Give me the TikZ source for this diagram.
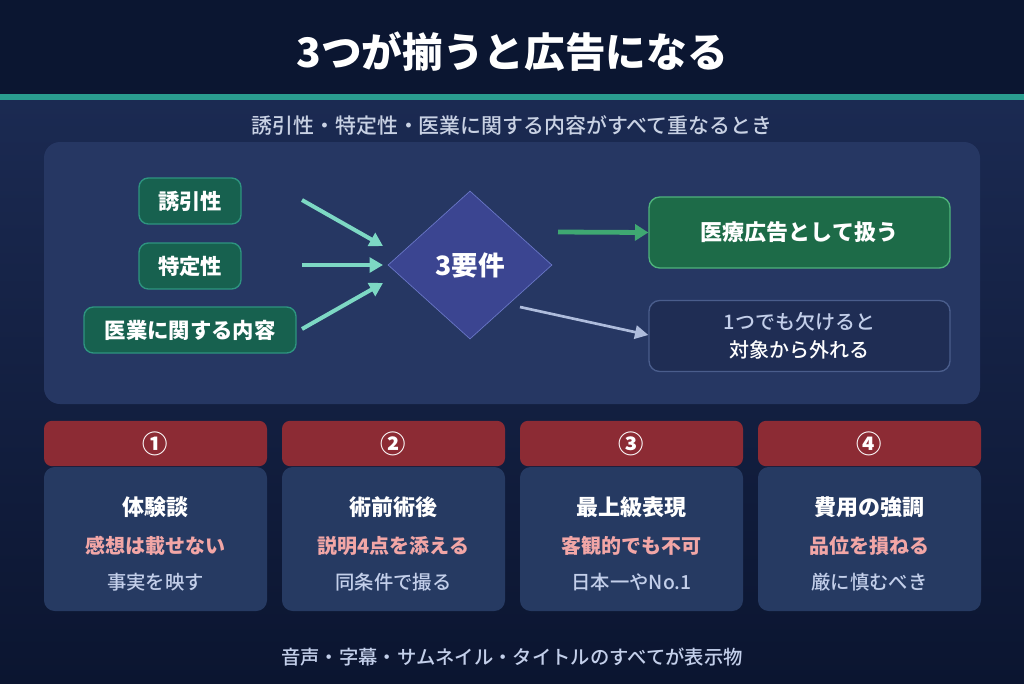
\documentclass[tikz,border=0pt]{standalone}
\usepackage{fontspec}
\setmainfont{Noto Sans CJK JP}
\newfontfamily\admedium{Noto Sans CJK JP}[UprightFont={* Medium}]
\usetikzlibrary{arrows.meta,shapes.geometric}
\definecolor{adbgtop}{HTML}{0B1631}
\definecolor{adbgmid}{HTML}{1B2A52}
\definecolor{adbgend}{HTML}{0B1530}
\definecolor{adteal}{HTML}{2A9D8F}
\definecolor{adpanel}{HTML}{263763}
\definecolor{adreqfill}{HTML}{17614F}
\definecolor{adreqdraw}{HTML}{2E9480}
\definecolor{admint}{HTML}{7DD8C4}
\definecolor{adcore}{HTML}{3B4591}
\definecolor{adcoredraw}{HTML}{6B78C8}
\definecolor{adgreen}{HTML}{3FA872}
\definecolor{adokfill}{HTML}{1D6B48}
\definecolor{adokdraw}{HTML}{4FB37C}
\definecolor{admissfill}{HTML}{1F2D54}
\definecolor{admissdraw}{HTML}{4A5D8C}
\definecolor{adgray}{HTML}{AEBCDC}
\definecolor{adred}{HTML}{8C2B34}
\definecolor{adcard}{HTML}{263A62}
\definecolor{adpink}{HTML}{F2A6A6}
\definecolor{adpale}{HTML}{C3CFEA}
\definecolor{adsub}{HTML}{C9D2E4}
\tikzset{
  reqbox/.style={draw=adreqdraw,fill=adreqfill,rounded corners=7pt,line width=1pt,
    minimum height=34.5pt,inner sep=0pt,text=white,font=\fontsize{16}{18}\selectfont\bfseries},
  corebox/.style={diamond,draw=adcoredraw,fill=adcore,line width=0.5pt,inner sep=0pt,
    minimum width=123pt,minimum height=111pt,text=white,font=\fontsize{20}{22}\selectfont\bfseries},
  okbox/.style={draw=adokdraw,fill=adokfill,rounded corners=8pt,line width=1pt,
    minimum width=225.75pt,minimum height=53.25pt,text=white,font=\fontsize{16.5}{19}\selectfont\bfseries},
  missbox/.style={draw=admissdraw,fill=admissfill,rounded corners=8pt,line width=1pt,
    minimum width=225.75pt,minimum height=53.25pt,align=center,font=\fontsize{15}{21}\selectfont\admedium},
  reqarrow/.style={draw=admint,line width=3pt,-{Triangle[length=10pt,width=11pt]}},
  okarrow/.style={draw=adgreen,line width=3.6pt,-{Triangle[length=10pt,width=12pt]}},
  missarrow/.style={draw=adgray,line width=2pt,-{Triangle[length=10pt,width=10pt]}},
  cardhead/.style={fill=adred,rounded corners=6pt,minimum width=167.25pt,minimum height=34pt,
    inner sep=0pt,text=white,font=\fontsize{19}{21}\selectfont\bfseries},
  cardbody/.style={fill=adcard,rounded corners=8pt,minimum width=167.25pt,minimum height=108pt,inner sep=0pt},
}
\begin{document}
\begin{tikzpicture}[x=0.75pt,y=-0.75pt]
  % background
  \fill[adbgtop] (0,0) rectangle (1024,95);
  \shade[top color=adbgmid,bottom color=adbgend] (0,100) rectangle (1024,683);
  \fill[adteal] (0,94) rectangle (1024,100);
  \node[text=white,font=\fontsize{30.5}{34}\selectfont\bfseries] (title) at (512,52) {3つが揃うと広告になる};
  \node[text=adsub,font=\fontsize{15.7}{18}\selectfont\admedium] (lead) at (512,125) {誘引性・特定性・医業に関する内容がすべて重なるとき};

  % requirements panel
  \fill[adpanel,rounded corners=12pt] (44,142) rectangle (980,404);
  \node[reqbox,minimum width=76.5pt] (lure) at (190,201) {誘引性};
  \node[reqbox,minimum width=76.5pt] (ident) at (190,266) {特定性};
  \node[reqbox,minimum width=159pt] (medic) at (190,330) {医業に関する内容};
  \node[corebox] (core) at (470,265) {3要件};
  \node[okbox] (isad) at (799.5,232.5) {医療広告として扱う};
  \node[missbox] (notad) at (799.5,336) {\textcolor{adpale}{1つでも欠けると}\\\textcolor{white}{対象から外れる}};
  \coordinate (lurefrom) at (302,200);
  \coordinate (identfrom) at (302,265);
  \coordinate (medicfrom) at (302,329);
  \coordinate (lureto) at (383,246);
  \coordinate (identto) at (383,265);
  \coordinate (medicto) at (383,283);
  \coordinate (okfrom) at (558,232);
  \coordinate (missfrom) at (520,307);
  \draw[reqarrow] (lurefrom) -- (lureto);
  \draw[reqarrow] (identfrom) -- (identto);
  \draw[reqarrow] (medicfrom) -- (medicto);
  \draw[okarrow] (okfrom) -- (isad.west);
  \draw[missarrow] (missfrom) -- ([yshift=0.75pt]notad.west);

  % four cards
  \foreach \i/\x/\num/\head/\warn/\note in {
      1/155.5/①/体験談/感想は載せない/事実を映す,
      2/393.5/②/術前術後/説明4点を添える/同条件で撮る,
      3/631.5/③/最上級表現/客観的でも不可/日本一やNo.1,
      4/869.5/④/費用の強調/品位を損ねる/厳に慎むべき}
    {\node[cardbody] (body\i) at (\x,539) {};
     \node[cardhead] (head\i) at (\x,443.5) {\num};
     \node[text=white,font=\fontsize{16.5}{19}\selectfont\bfseries] (name\i) at (\x,507) {\head};
     \node[text=adpink,font=\fontsize{15}{18}\selectfont\bfseries] (warn\i) at (\x,546) {\warn};
     \node[text=adpale,font=\fontsize{14.5}{17}\selectfont\admedium] (note\i) at (\x,582) {\note};}

  \node[text=adpale,font=\fontsize{14.5}{17}\selectfont\admedium] (foot) at (512,657) {音声・字幕・サムネイル・タイトルのすべてが表示物};
  \path[use as bounding box] (0,0) rectangle (1024,683);
\end{tikzpicture}
\end{document}
